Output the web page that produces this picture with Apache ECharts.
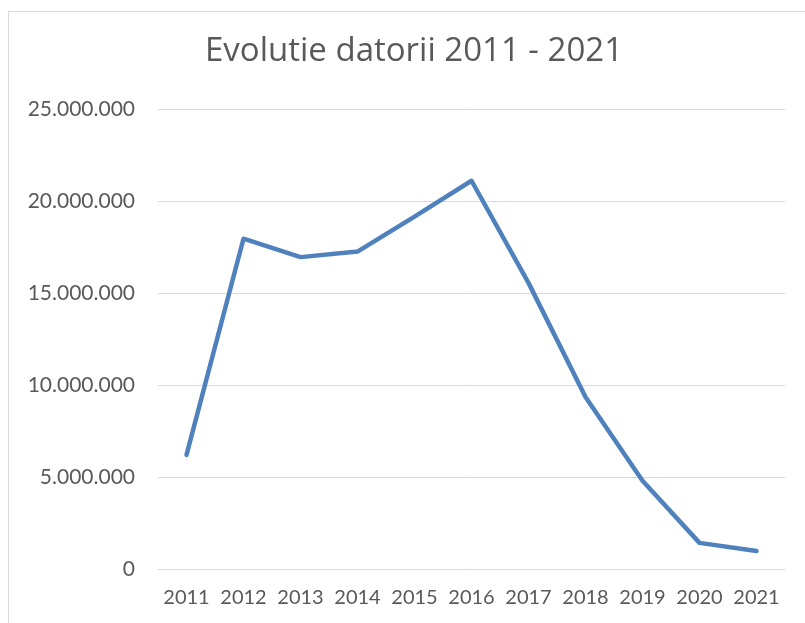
<!DOCTYPE html>
<html>
<head>
<meta charset="utf-8">
<script src="https://cdn.jsdelivr.net/npm/echarts@6/dist/echarts.min.js"></script>
<style>
  html, body { margin: 0; padding: 0; background: #fff; }
  .frame {
    position: absolute;
    left: 8px;
    top: 11px;
    width: 820px;
    height: 640px;
    border: 1px solid #d9d9d9;
  }
  #chart { position: absolute; left: 0; top: 0; width: 805px; height: 623px; }
</style>
</head>
<body>
<div class="frame"></div>
<div id="chart"></div>
<script>
const titleText = "Evolutie datorii 2011 - 2021";
const years = ["2011", "2012", "2013", "2014", "2015", "2016", "2017", "2018", "2019", "2020", "2021"];
const debt = [6200000, 17950000, 16950000, 17250000, 19150000, 21100000, 15550000, 9350000, 4800000, 1420000, 980000];

// 25.000.000 style labels
function fmt(v) {
  return String(v).replace(/\B(?=(\d{3})+(?!\d))/g, ".");
}

const chart = echarts.init(document.getElementById("chart"));
chart.setOption({
  animation: false,
  title: {
    text: titleText,
    left: 205,
    top: 35,
    padding: 0,
    textStyle: {
      color: "#595959",
      fontFamily: "Open Sans",
      fontWeight: "normal",
      fontSize: 33
    }
  },
  grid: {
    left: 158,
    right: 20,
    top: 109,
    bottom: 54,
    containLabel: false
  },
  xAxis: {
    type: "category",
    data: years,
    boundaryGap: true,
    axisLine: { lineStyle: { color: "#d9d9d9", width: 1 } },
    axisTick: { show: false },
    axisLabel: {
      interval: 0,
      color: "#595959",
      fontFamily: "Lato",
      fontSize: 20,
      margin: 19
    }
  },
  yAxis: {
    type: "value",
    min: 0,
    max: 25000000,
    interval: 5000000,
    axisLine: { show: false },
    axisTick: { show: false },
    splitLine: { lineStyle: { color: "#d9d9d9", width: 1 } },
    axisLabel: {
      color: "#595959",
      fontFamily: "Lato",
      fontSize: 21,
      margin: 23,
      formatter: fmt
    }
  },
  series: [
    {
      type: "line",
      data: debt,
      symbol: "none",
      lineStyle: { color: "#4f81bd", width: 4.5, join: "round", cap: "round" }
    }
  ]
});
</script>
</body>
</html>
